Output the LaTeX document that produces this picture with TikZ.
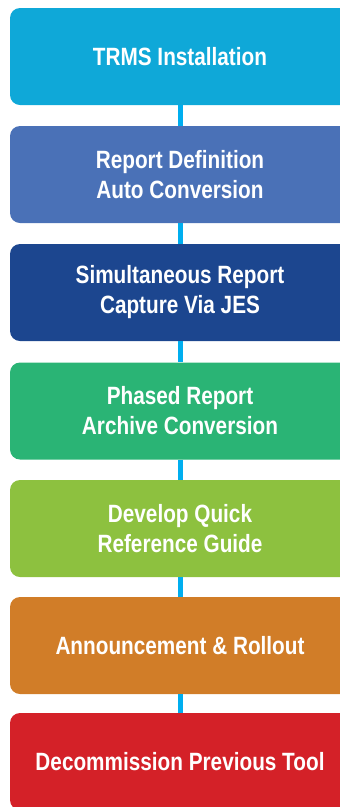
\documentclass[tikz,border=0pt]{standalone}
\usepackage{fontspec}
\setmainfont{Liberation Sans}[FakeStretch=0.83]
\definecolor{c1}{HTML}{0FA8D8}
\definecolor{c2}{HTML}{4A71B7}
\definecolor{c3}{HTML}{1C468F}
\definecolor{c4}{HTML}{2AB475}
\definecolor{c5}{HTML}{8DC13F}
\definecolor{c6}{HTML}{D17D28}
\definecolor{c7}{HTML}{D42128}
\definecolor{conn}{HTML}{00AEEF}
\begin{document}
\begin{tikzpicture}[x=1pt,y=-1pt,
  stage/.style={rectangle, rounded corners=10pt, fill=#1, draw=none,
    minimum width=340pt, minimum height=97pt, inner sep=0pt,
    text=white, align=center,
    font=\fontsize{25}{30}\selectfont\bfseries},
  link/.style={draw=conn, line width=5pt}]
\useasboundingbox (0,0) rectangle (340,807);
\clip (0,0) rectangle (340,807);
\node[stage=c1] (s1) at (180,56.5) {TRMS Installation};
\node[stage=c2] (s2) at (180,174.5) {Report Definition\\Auto Conversion};
\node[stage=c3] (s3) at (180,292.5) {Simultaneous Report\\Capture Via JES};
\node[stage=c4] (s4) at (180,411) {Phased Report\\Archive Conversion};
\node[stage=c5] (s5) at (180,528.5) {Develop Quick\\Reference Guide};
\node[stage=c6] (s6) at (180,645.5) {Announcement \& Rollout};
\node[stage=c7] (s7) at (180,761.5) {Decommission Previous Tool};
\draw[link] (s1.south) -- (s2.north);
\draw[link] (s2.south) -- (s3.north);
\draw[link] (s3.south) -- (s4.north);
\draw[link] (s4.south) -- (s5.north);
\draw[link] (s5.south) -- (s6.north);
\draw[link] (s6.south) -- (s7.north);
\end{tikzpicture}
\end{document}
